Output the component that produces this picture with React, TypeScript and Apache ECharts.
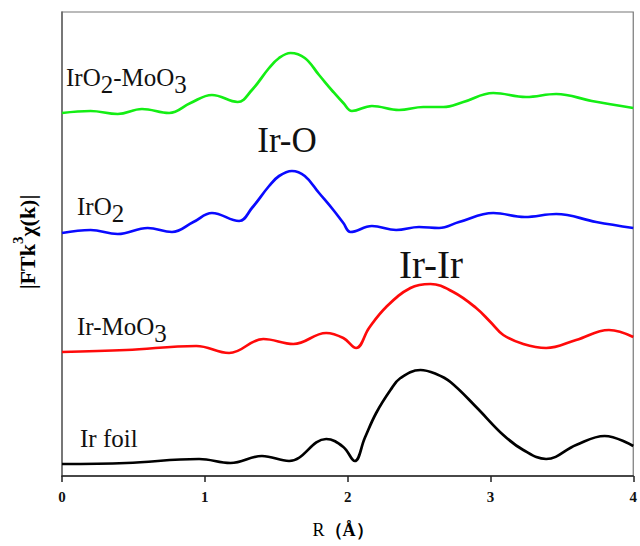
import React, { useEffect, useRef } from "react";
import * as echarts from "echarts";

// R values (Å) and |FT| intensities (arbitrary units, stacked offsets included)
const irO2MoO3R = [0, 0.2, 0.39, 0.56, 0.75, 0.9, 1.05, 1.23, 1.33, 1.45, 1.52, 1.6, 1.7, 1.8, 1.9, 1.97, 2.03, 2.17, 2.36, 2.53, 2.67, 2.81, 3.02, 3.25, 3.46, 3.71, 4.0];
const irO2MoO3V = [363, 365, 362, 367, 363, 373, 381, 374, 386, 408, 418, 423, 418, 401, 384, 373, 365, 370, 366, 369, 369, 374, 383, 379, 382, 375, 368];

const irO2R = [0, 0.2, 0.39, 0.6, 0.77, 0.92, 1.05, 1.24, 1.33, 1.45, 1.52, 1.61, 1.7, 1.8, 1.9, 1.97, 2.02, 2.17, 2.34, 2.5, 2.64, 2.78, 3.02, 3.24, 3.46, 3.74, 4.0];
const irO2V = [243, 246, 242, 248, 244, 254, 263, 255, 268, 290, 300, 305, 300, 283, 266, 253, 244, 250, 246, 249, 248, 254, 263, 259, 262, 254, 248];

const irMoO3R = [0, 0.45, 0.94, 1.17, 1.41, 1.62, 1.85, 1.97, 2.06, 2.15, 2.27, 2.44, 2.58, 2.74, 2.9, 3.0, 3.09, 3.23, 3.39, 3.6, 3.83, 4.0];
const irMoO3V = [124, 126, 130, 123, 137, 132, 143, 138, 128, 148, 169, 188, 192, 184, 168, 154, 141, 132, 128, 136, 146, 139];

const irFoilR = [0, 0.45, 0.96, 1.18, 1.4, 1.59, 1.85, 1.97, 2.05, 2.12, 2.2, 2.3, 2.37, 2.51, 2.62, 2.72, 2.9, 3.09, 3.23, 3.39, 3.6, 3.8, 4.0];
const irFoilV = [12, 13, 17, 13, 20, 15, 37, 29, 15, 38, 63, 86, 98, 106, 102, 94, 69, 41, 26, 17, 31, 40, 30];

const xTicks = [0, 1, 2, 3, 4];

// Curve labels: [text, isSubscript]
const labelIrO2MoO3: [string, boolean][] = [["IrO", false], ["2", true], ["-MoO", false], ["3", true]];
const labelIrO2: [string, boolean][] = [["IrO", false], ["2", true]];
const labelIrMoO3: [string, boolean][] = [["Ir-MoO", false], ["3", true]];
const labelIrFoil: [string, boolean][] = [["Ir foil", false]];

const zip = (xs: number[], ys: number[]) => xs.map((x, i) => [x, ys[i]]);

const serif = "'Liberation Serif', 'Times New Roman', serif";

export default function App() {
  const ref = useRef<HTMLDivElement>(null);
  useEffect(() => {
    if (!ref.current) return;
    const chart = echarts.init(ref.current, undefined, { renderer: "svg" });
    const ctx = document.createElement("canvas").getContext("2d")!;
    const mkSeries = (name: string, xs: number[], ys: number[], color: string) => ({
      name,
      type: "line",
      data: zip(xs, ys),
      smooth: 0.4,
      showSymbol: false,
      lineStyle: { color, width: 2.7 },
    });
    const labelSize = 25;
    const subLabel = (x0: number, y0: number, parts: [string, boolean][]) => {
      ctx.font = `${labelSize}px 'Liberation Serif'`;
      let x = x0;
      return parts.map(([t, sub]) => {
        const el = {
          type: "text",
          x,
          y: y0 + (sub ? 7 : 0),
          style: { text: t, fontFamily: serif, fontSize: labelSize, fill: "#111", textAlign: "left", textVerticalAlign: "top" },
        };
        x += ctx.measureText(t).width;
        return el;
      });
    };
    chart.setOption({
      animation: false,
      grid: { left: 62, right: 4, top: 12, bottom: 70, show: true, borderColor: "#777", borderWidth: 1.2 },
      xAxis: {
        type: "value",
        min: 0,
        max: 4,
        interval: 1,
        axisLine: { show: true, lineStyle: { color: "#222", width: 1.5 } },
        axisTick: { show: true, inside: false, length: 6, lineStyle: { color: "#222", width: 1.5 } },
        axisLabel: {
          fontFamily: serif,
          fontWeight: "bold",
          fontSize: 15,
          color: "#111",
          margin: 13,
          formatter: (v: number) => (xTicks.includes(v) ? String(v) : ""),
        },
        splitLine: { show: false },
      },
      yAxis: {
        type: "value",
        min: 0,
        max: 464,
        axisLine: { show: true, lineStyle: { color: "#666", width: 1.5 } },
        axisTick: { show: false },
        axisLabel: { show: false },
        splitLine: { show: false },
      },
      series: [
        mkSeries("IrO2-MoO3", irO2MoO3R, irO2MoO3V, "#14ee14"),
        mkSeries("IrO2", irO2R, irO2V, "#0a0aff"),
        mkSeries("Ir-MoO3", irMoO3R, irMoO3V, "#ff0a0a"),
        mkSeries("Ir foil", irFoilR, irFoilV, "#000000"),
      ],
      graphic: [
        ...subLabel(66, 65, labelIrO2MoO3),
        ...subLabel(77, 194, labelIrO2),
        ...subLabel(77, 314, labelIrMoO3),
        ...subLabel(80, 426, labelIrFoil),
        {
          type: "text",
          x: 287,
          y: 140,
          style: { text: "Ir-O", fontFamily: serif, fontSize: 35, fill: "#111", textAlign: "center", textVerticalAlign: "middle" },
        },
        {
          type: "text",
          x: 431,
          y: 264,
          style: { text: "Ir-Ir", fontFamily: serif, fontSize: 39, fill: "#111", textAlign: "center", textVerticalAlign: "middle" },
        },
        {
          type: "text",
          x: 343,
          y: 530,
          style: {
            text: "{r|R}{b|（Å）}",
            textAlign: "center",
            textVerticalAlign: "middle",
            rich: {
              r: { fontFamily: serif, fontSize: 18, color: "#222" },
              b: { fontFamily: serif, fontSize: 18, fontWeight: "bold", color: "#222" },
            },
          },
        },
        {
          type: "text",
          x: 24,
          y: 242,
          rotation: Math.PI / 2,
          style: {
            text: "{m||FTk}{u|3}{m|χ(k)|}",
            textAlign: "center",
            textVerticalAlign: "middle",
            rich: {
              m: { fontFamily: serif, fontSize: 22, fontWeight: "bold", color: "#111", lineHeight: 28, verticalAlign: "bottom" },
              u: { fontFamily: serif, fontSize: 15, fontWeight: "bold", color: "#111", lineHeight: 28, verticalAlign: "top", padding: [0, 0, 8, 0] },
            },
          },
        },
      ],
    });
    return () => chart.dispose();
  }, []);
  return <div ref={ref} style={{ width: 640, height: 546, position: "absolute", left: 0, top: 0 }} />;
}
